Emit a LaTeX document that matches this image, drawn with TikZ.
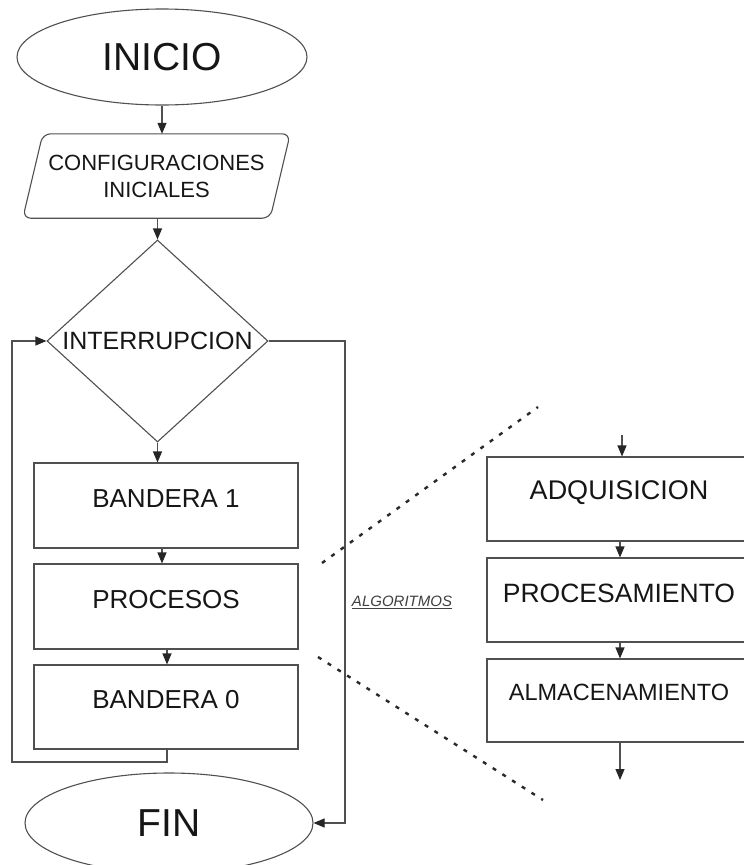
\documentclass[tikz,border=0pt]{standalone}
\usepackage{fontspec}
\setmainfont{Liberation Sans}
\usetikzlibrary{shapes.geometric,arrows.meta,calc}
\definecolor{linegray}{HTML}{505050}
\definecolor{inkgray}{HTML}{161616}
\definecolor{dotgray}{HTML}{2A2A2A}
\definecolor{notegray}{HTML}{404040}
\begin{document}
\begin{tikzpicture}[x=1pt,y=-1pt,
  every node/.style={text=inkgray},
  flow/.style={draw=linegray,line width=1.1pt},
  arr/.style={flow,-{Triangle[length=11pt,width=9pt,color=black!85]}},
  term/.style={ellipse,draw=linegray,line width=1.1pt,inner sep=0pt,
    font=\fontsize{39}{39}\selectfont},
  stepbox/.style={rectangle,draw=linegray,line width=1.1pt,
    minimum width=264pt,minimum height=84pt,inner sep=0pt},
  zoomline/.style={draw=dotgray,line width=2.4pt,dash pattern=on 4pt off 7.5pt}
]
\useasboundingbox (0,0) rectangle (744,865);
\fill[white] (0,0) rectangle (744,865);
\clip (0,0) rectangle (744,865);

% main flow
\node[term,minimum width=290pt,minimum height=96pt] (ini) at (162,57) {INICIO};
\node[inner sep=0pt,minimum width=267pt,minimum height=84pt,align=center,
      font=\fontsize{22}{27}\selectfont] (conf) at (156.5,176)
      {CONFIGURACIONES\\INICIALES};
\draw[flow,rounded corners=8pt] ($(conf.north west)+(20,0)$) -- (conf.north east)
  -- ($(conf.south east)+(-20,0)$) -- (conf.south west) -- cycle;
\node[diamond,draw=linegray,line width=1.1pt,minimum width=221pt,minimum height=202pt,
      inner sep=0pt,label={[font=\fontsize{25}{25}\selectfont]center:INTERRUPCION}]
      (irq) at (157.5,341) {};
\node[stepbox,minimum height=85pt,
      label={[yshift=7pt,font=\fontsize{26}{26}\selectfont]center:BANDERA 1}]
      (b1) at (166,505.5) {};
\node[stepbox,minimum height=85pt,
      label={[yshift=7pt,font=\fontsize{26}{26}\selectfont]center:PROCESOS}]
      (proc) at (166,606.5) {};
\node[stepbox,
      label={[yshift=7pt,font=\fontsize{26}{26}\selectfont]center:BANDERA 0}]
      (b0) at (166,707) {};
\node[term,minimum width=288pt,minimum height=100pt] (fin) at (169,823) {FIN};

\coordinate (loopL) at (12,762);
\coordinate (rcorner) at (345,823);

\draw[arr] (ini.south) -- (ini.south |- conf.north);
\draw[arr] (irq.north |- conf.south) -- (irq.north);
\draw[arr] (irq.south) -- (irq.south |- b1.north);
\draw[arr] ([xshift=-4pt]b1.south) -- ([xshift=-4pt]proc.north);
\draw[arr] ([xshift=1pt]proc.south) -- ([xshift=1pt]b0.north);
\draw[arr] ([xshift=1pt]b0.south) |- (loopL) |- (irq.west);
\draw[arr] (irq.east) -| (rcorner) -- (fin.east);

% expanded algorithm block
\node[stepbox,
      label={[yshift=6pt,font=\fontsize{27}{27}\selectfont]center:ADQUISICION}]
      (adq) at (619,499) {};
\node[stepbox,
      label={[yshift=7pt,font=\fontsize{26.5}{26.5}\selectfont]center:PROCESAMIENTO}]
      (pma) at (619,600) {};
\node[stepbox,minimum height=83pt,
      label={[yshift=8.5pt,font=\fontsize{23.5}{23.5}\selectfont]center:ALMACENAMIENTO}]
      (alm) at (619,700.5) {};

\coordinate (inTop) at (622,435);
\coordinate (outBot) at (620,780);
\draw[arr] (inTop) -- (inTop |- adq.north);
\draw[arr] ([xshift=1pt]adq.south) -- ([xshift=1pt]pma.north);
\draw[arr] ([xshift=1pt]pma.south) -- ([xshift=1pt]alm.north);
\draw[arr] (outBot |- alm.south) -- (outBot);

% zoom guides
\coordinate (zA1) at (322,563);
\coordinate (zA2) at (538,407);
\coordinate (zB1) at (318,657);
\coordinate (zB2) at (543,800);
\draw[zoomline] (zA1) -- (zA2);
\draw[zoomline] (zB1) -- (zB2);
\node[font=\fontsize{15}{15}\selectfont\itshape,text=notegray] (alg) at (402,602)
  {\underline{ALGORITMOS}};
\end{tikzpicture}
\end{document}
